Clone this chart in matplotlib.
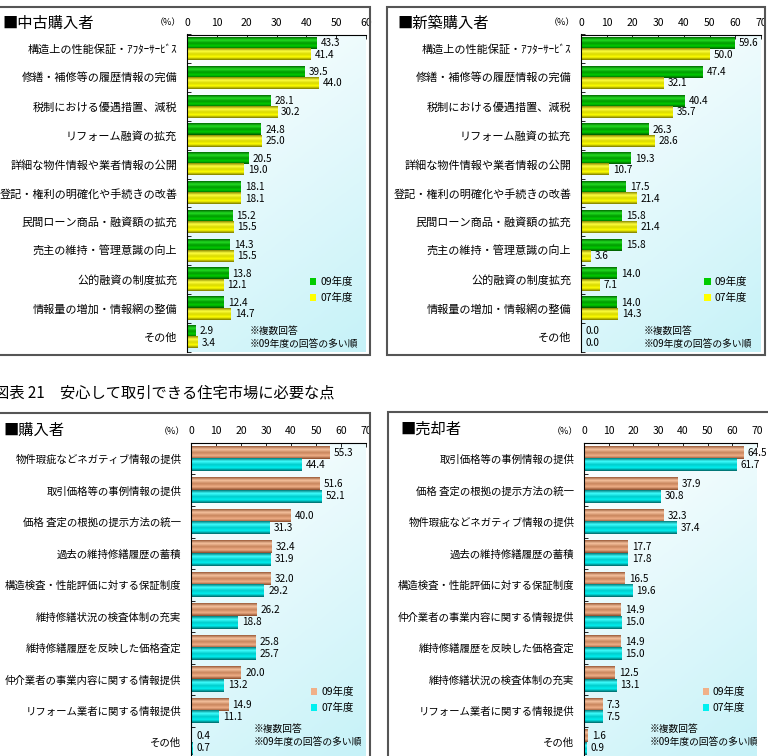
import numpy as np
import matplotlib
matplotlib.use('Agg')
from matplotlib import pyplot as plt
from matplotlib.colors import LinearSegmentedColormap
from matplotlib.patches import Rectangle

plt.rcParams['font.family'] = ['Noto Sans CJK JP', 'DejaVu Sans']

W, H = 768, 756

# ---- data ----
cats_top = ['構造上の性能保証・ｱﾌﾀｰｻｰﾋﾞｽ', '修繕・補修等の履歴情報の完備', '税制における優遇措置、減税',
            'リフォーム融資の拡充', '詳細な物件情報や業者情報の公開', '登記・権利の明確化や手続きの改善',
            '民間ローン商品・融資額の拡充', '売主の維持・管理意識の向上', '公的融資の制度拡充',
            '情報量の増加・情報網の整備', 'その他']
used_09 = [43.3, 39.5, 28.1, 24.8, 20.5, 18.1, 15.2, 14.3, 13.8, 12.4, 2.9]
used_07 = [41.4, 44.0, 30.2, 25.0, 19.0, 18.1, 15.5, 15.5, 12.1, 14.7, 3.4]
new_09 = [59.6, 47.4, 40.4, 26.3, 19.3, 17.5, 15.8, 15.8, 14.0, 14.0, 0.0]
new_07 = [50.0, 32.1, 35.7, 28.6, 10.7, 21.4, 21.4, 3.6, 7.1, 14.3, 0.0]

cats_buy = ['物件瑕疵などネガティブ情報の提供', '取引価格等の事例情報の提供', '価格 査定の根拠の提示方法の統一',
            '過去の維持修繕履歴の蓄積', '構造検査・性能評価に対する保証制度', '維持修繕状況の検査体制の充実',
            '維持修繕履歴を反映した価格査定', '仲介業者の事業内容に関する情報提供', 'リフォーム業者に関する情報提供',
            'その他']
buy_09 = [55.3, 51.6, 40.0, 32.4, 32.0, 26.2, 25.8, 20.0, 14.9, 0.4]
buy_07 = [44.4, 52.1, 31.3, 31.9, 29.2, 18.8, 25.7, 13.2, 11.1, 0.7]

cats_sell = ['取引価格等の事例情報の提供', '価格 査定の根拠の提示方法の統一', '物件瑕疵などネガティブ情報の提供',
             '過去の維持修繕履歴の蓄積', '構造検査・性能評価に対する保証制度', '仲介業者の事業内容に関する情報提供',
             '維持修繕履歴を反映した価格査定', '維持修繕状況の検査体制の充実', 'リフォーム業者に関する情報提供',
             'その他']
sell_09 = [64.5, 37.9, 32.3, 17.7, 16.5, 14.9, 14.9, 12.5, 7.3, 1.6]
sell_07 = [61.7, 30.8, 37.4, 17.8, 19.6, 15.0, 15.0, 13.1, 7.5, 0.9]

series_names = ['09年度', '07年度']

# bar gradients (top -> bottom)
green = ['#006a00', '#22dd22', '#009a00', '#00cc00', '#005500']
yellow = ['#8a8a00', '#ffff40', '#d8d800', '#ffff00', '#7a7a00']
tan = ['#9a5a38', '#f6c4a0', '#c8845c', '#f0b088', '#8a4a2a']
cyan = ['#007a7a', '#40ffff', '#00cccc', '#00f0f0', '#006666']

bg_cmap = LinearSegmentedColormap.from_list('bg', ['#ffffff', '#c6f2f8'])


def px_axes(fig, x0, y0, x1, y1):
    return fig.add_axes([x0 / W, 1 - y1 / H, (x1 - x0) / W, (y1 - y0) / H])


def grad_bars(ax, bars, colors):
    cmap = LinearSegmentedColormap.from_list('g', colors)
    grad = np.linspace(0, 1, 64).reshape(-1, 1)
    for p in bars:
        x0, y0 = p.get_xy()
        w = p.get_width()
        hh = p.get_height()
        if w <= 0:
            continue
        ax.imshow(grad, cmap=cmap, extent=(x0, x0 + w, y0 + hh, y0),
                  aspect='auto', zorder=2, interpolation='bilinear')


def draw_panel(ax, cats, v09, v07, xmax, c09, c07, leg_y, note_x, note_y, lab_fs):
    n = len(cats)
    y = np.arange(n)
    h = 0.39
    b1 = ax.barh(y - h / 2, v09, height=h, color=c09[3], zorder=1)
    b2 = ax.barh(y + h / 2, v07, height=h, color=c07[3], zorder=1)
    grad_bars(ax, b1, c09)
    grad_bars(ax, b2, c07)

    for i in range(n):
        ax.annotate('%.1f' % v09[i], xy=(v09[i], y[i] - h / 2), xytext=(3, 0),
                    textcoords='offset points', va='center', ha='left', fontsize=7.2, zorder=3)
        ax.annotate('%.1f' % v07[i], xy=(v07[i], y[i] + h / 2), xytext=(3, 0),
                    textcoords='offset points', va='center', ha='left', fontsize=7.2, zorder=3)

    # background
    xx, yy = np.meshgrid(np.linspace(0, 1, 100), np.linspace(0, 1, 100))
    bg = 0.7 * yy + 0.3 * xx
    ax.imshow(bg, cmap=bg_cmap, extent=(0, 1, 0, 1), transform=ax.transAxes,
              aspect='auto', zorder=0, vmin=0, vmax=1)

    ax.set_xlim(0, xmax)
    ax.set_ylim(n - 0.5, -0.5)
    ax.xaxis.tick_top()
    ax.set_xticks(np.arange(0, xmax + 1, 10))
    ax.tick_params(axis='x', direction='in', length=3, labelsize=7.5, pad=5, width=0.6)
    ax.set_yticks(y)
    ax.set_yticklabels(cats)
    ax.tick_params(axis='y', length=0, labelsize=lab_fs, pad=7)
    ax.set_yticks(np.arange(n + 1) - 0.5, minor=True)
    ax.tick_params(axis='y', which='minor', direction='in', length=3, width=0.6)
    for s in ['right', 'bottom']:
        ax.spines[s].set_visible(False)
    for s in ['top', 'left']:
        ax.spines[s].set_linewidth(0.8)

    ax.annotate('（%）', xy=(0, 1), xycoords='axes fraction', xytext=(-4, 5),
                textcoords='offset points', ha='right', va='bottom', fontsize=6.5)

    ax.legend([b1, b2], series_names, loc='upper left', bbox_to_anchor=(0.685, leg_y),
              frameon=False, fontsize=7.5, handlelength=0.6, handleheight=0.6,
              handletextpad=0.4, labelspacing=0.55, borderpad=0, borderaxespad=0)
    ax.text(note_x, note_y, '※複数回答\n※09年度の回答の多い順', transform=ax.transAxes,
            fontsize=7, va='bottom', ha='left', linespacing=1.35, zorder=3)


fig = plt.figure(figsize=(W / 100, H / 100), dpi=100)

# panel frames
for (x0, y0, x1, y1) in [(-5, 7, 370, 355), (387, 7, 765, 355), (-5, 413, 370, 762), (388, 412, 772, 762)]:
    fig.add_artist(Rectangle((x0 / W, 1 - y1 / H), (x1 - x0) / W, (y1 - y0) / H,
                             transform=fig.transFigure, fill=False, edgecolor='#555555', lw=1.5))

ax1 = px_axes(fig, 187, 34.5, 366, 351.5)
draw_panel(ax1, cats_top, used_09, used_07, 60, green, yellow, 0.235, 0.35, 0.008, 8)
ax2 = px_axes(fig, 581, 34.5, 761, 351.5)
draw_panel(ax2, cats_top, new_09, new_07, 70, green, yellow, 0.235, 0.35, 0.008, 8)
ax3 = px_axes(fig, 191, 443, 366, 758)
draw_panel(ax3, cats_buy, buy_09, buy_07, 70, tan, cyan, 0.225, 0.36, 0.035, 7.5)
ax4 = px_axes(fig, 584, 443, 757, 758)
draw_panel(ax4, cats_sell, sell_09, sell_07, 70, tan, cyan, 0.225, 0.38, 0.035, 7.5)

fig.text(2 / W, 1 - 23 / H, '■中古購入者', fontsize=11, va='center', ha='left')
fig.text(397 / W, 1 - 23 / H, '■新築購入者', fontsize=11, va='center', ha='left')
fig.text(3 / W, 1 - 430 / H, '■購入者', fontsize=11, va='center', ha='left')
fig.text(400 / W, 1 - 429 / H, '■売却者', fontsize=11, va='center', ha='left')
fig.text(-6 / W, 1 - 393 / H, '図表 21　安心して取引できる住宅市場に必要な点', fontsize=11,
         va='center', ha='left')

fig.savefig('out.png', dpi=100)
